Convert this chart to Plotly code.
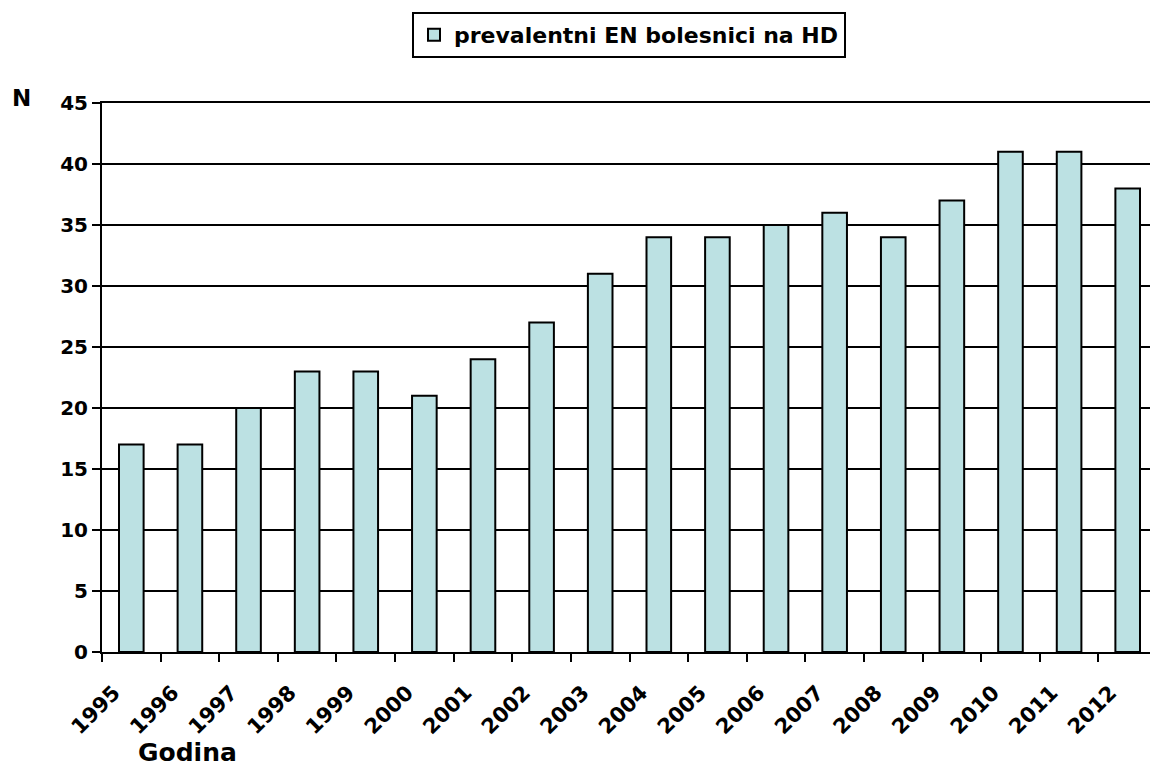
import plotly.graph_objects as go

years = ["1995", "1996", "1997", "1998", "1999", "2000", "2001", "2002", "2003",
         "2004", "2005", "2006", "2007", "2008", "2009", "2010", "2011", "2012"]
values = [17, 17, 20, 23, 23, 21, 24, 27, 31, 34, 34, 35, 36, 34, 37, 41, 41, 38]
series_name = "prevalentni EN bolesnici na HD"
y_ticks = [0, 5, 10, 15, 20, 25, 30, 35, 40, 45]

FONT = "DejaVu Sans, Arial, sans-serif"
xpos = [i + 0.5 for i in range(len(years))]

# page body has an 8px margin; figure is sized/positioned to compensate
OFF = 8
W, H = 1158 - OFF, 769 - OFF
L, R, T, B = 102 - OFF, 1, 103 - OFF, 769 - 652
plot_w = W - L - R
plot_h = H - T - B


def px_to_paper(px, py):
    px -= OFF
    py -= OFF
    return (px - L) / plot_w, (H - B - py) / plot_h


fig = go.Figure()
fig.add_trace(go.Bar(
    x=xpos, y=values, name=series_name, width=0.42,
    marker=dict(color="#BCE1E3", line=dict(color="black", width=2)),
    showlegend=True,
))

lx, ly = px_to_paper(629, 12)
nx, ny = px_to_paper(21, 98)
gx, gy = px_to_paper(187, 752)

fig.update_layout(
    width=W, height=H,
    margin=dict(l=L, r=R, t=T, b=B, autoexpand=False),
    paper_bgcolor="white", plot_bgcolor="white",
    font=dict(family=FONT, size=20, color="black"),
    showlegend=True,
    legend=dict(
        orientation="h", x=lx, xanchor="center", y=ly, yanchor="top",
        bordercolor="black", borderwidth=2, bgcolor="white",
        font=dict(family=FONT, size=22, color="black", weight="bold"),
    ),
    xaxis=dict(
        range=[0, len(years)],
        tickmode="array",
        tickvals=list(range(len(years) + 1)),
        ticktext=[f"<b>{y}</b>" for y in years] + [""],
        tickangle=-45,
        ticks="outside", ticklen=8, tickwidth=2, tickcolor="black",
        showline=True, linecolor="black", linewidth=2, mirror=True,
        showgrid=False, zeroline=False,
        tickfont=dict(family=FONT, size=21, color="black"),
        ticklabelshift=12,
        ticklabelstandoff=10,
    ),
    yaxis=dict(
        range=[0, 45],
        tickmode="array", tickvals=y_ticks,
        ticktext=[f"<b>{v}</b>" for v in y_ticks],
        ticks="outside", ticklen=8, tickwidth=2, tickcolor="black",
        showline=True, linecolor="black", linewidth=2, mirror=True,
        showgrid=True, gridcolor="black", gridwidth=2,
        zeroline=False,
        tickfont=dict(family=FONT, size=20, color="black"),
    ),
    annotations=[
        dict(text="<b>N</b>", x=nx, y=ny, xref="paper", yref="paper",
             xanchor="center", yanchor="middle",
             showarrow=False, font=dict(family=FONT, size=23, color="black")),
        dict(text="<b>Godina</b>", x=gx, y=gy, xref="paper", yref="paper",
             xanchor="center", yanchor="middle",
             showarrow=False, font=dict(family=FONT, size=25, color="black")),
    ],
)

fig.write_html("out.html")
